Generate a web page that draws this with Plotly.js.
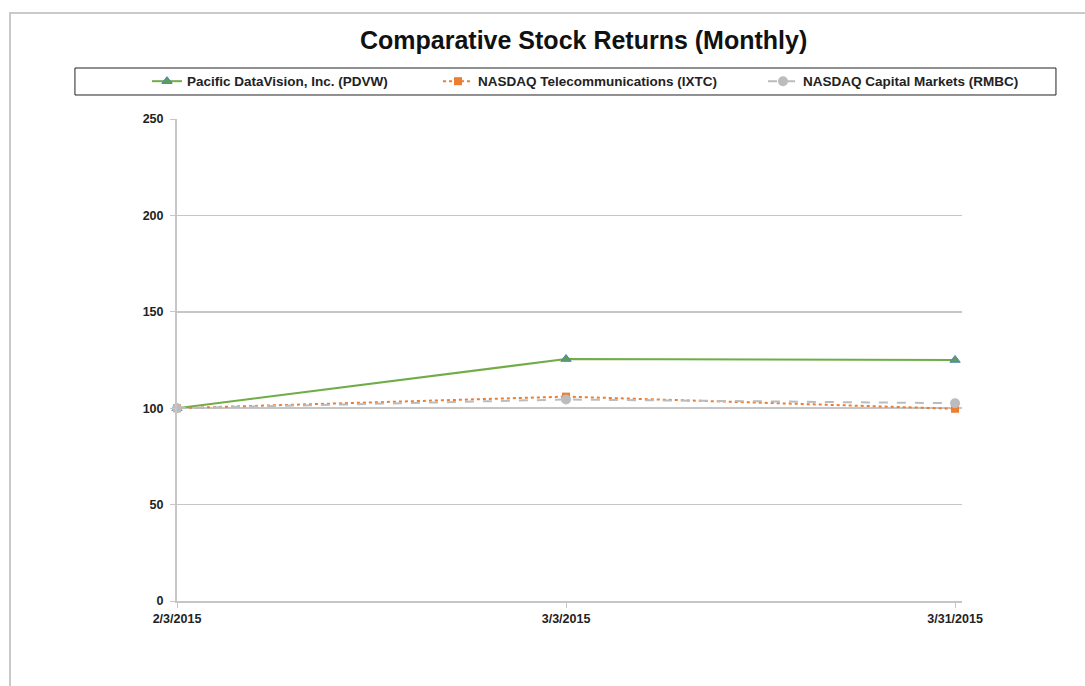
<!DOCTYPE html>
<html>
<head>
<meta charset="utf-8">
<script src="https://cdn.plot.ly/plotly-3.0.1.min.js"></script>
<style>
  html, body { margin: 0; padding: 0; background: #fff; }
  #chart { width: 1085px; height: 686px; }
  #frame { position: absolute; left: 9px; top: 12px; right: 0; bottom: 0;
           border-left: 2px solid #c9c9c9; border-top: 2px solid #c9c9c9; pointer-events: none; }
</style>
</head>
<body>
<div id="chart"></div>
<div id="frame"></div>
<script>
const dates = ['2015-02-03', '2015-03-03', '2015-03-31'];
const tickLabels = ['2/3/2015', '3/3/2015', '3/31/2015'];
const seriesNames = ['Pacific DataVision, Inc. (PDVW)', 'NASDAQ Telecommunications (IXTC)', 'NASDAQ Capital Markets (RMBC)'];
const pdvw = [100, 125.5, 125];
const ixtc = [100, 106, 99.7];
const rmbc = [100, 104.5, 102.6];
const yTicks = [0, 50, 100, 150, 200, 250];

const fam = 'Liberation Sans, Arial, sans-serif';
const tickFont = {family: fam, size: 12.5, color: '#222', weight: 'bold'};
const legFont = {family: fam, size: 13.5, color: '#222', weight: 'bold'};

const traces = [
  {x: dates, y: pdvw, name: seriesNames[0], type: 'scatter', mode: 'lines+markers', legend: 'legend',
   line: {color: '#70ad47', width: 2},
   marker: {symbol: 'triangle-up', size: 9, color: '#5c9e52', line: {color: '#4f81bd', width: 1}},
   cliponaxis: false},
  {x: dates, y: ixtc, name: seriesNames[1], type: 'scatter', mode: 'lines+markers', legend: 'legend2',
   line: {color: '#ed7d31', width: 2, dash: 'dot'},
   marker: {symbol: 'square', size: 8, color: '#ed7d31'},
   cliponaxis: false},
  {x: dates, y: rmbc, name: seriesNames[2], type: 'scatter', mode: 'lines+markers', legend: 'legend3',
   line: {color: '#bcbcbc', width: 2, dash: 'dash'},
   marker: {symbol: 'circle', size: 10, color: '#bcbcbc'},
   cliponaxis: false}
];

function leg(x) {
  return {orientation: 'h', x: x, xanchor: 'left', y: 1.078, yanchor: 'middle',
          bgcolor: 'rgba(0,0,0,0)', borderwidth: 0, font: legFont};
}

const layout = {
  width: 1085, height: 686,
  margin: {l: 177, r: 123, t: 119, b: 85},
  paper_bgcolor: '#fff', plot_bgcolor: '#fff',
  title: {text: 'Comparative Stock Returns (Monthly)', x: 0.518, xref: 'paper', xanchor: 'center',
          y: 0.942, yref: 'container', yanchor: 'middle',
          font: {family: fam, size: 25, color: '#111', weight: 'bold'}},
  xaxis: {type: 'date', range: ['2015-02-03', '2015-03-31 12:00'],
          tickvals: dates, ticktext: tickLabels, showgrid: false, zeroline: false,
          showline: true, linecolor: '#c6c6c6', linewidth: 2,
          ticks: 'outside', ticklen: 5, tickcolor: '#c6c6c6', tickfont: tickFont, fixedrange: true},
  yaxis: {range: [0, 250], tickvals: yTicks, showgrid: true, gridcolor: '#c6c6c6', gridwidth: 1.5,
          zeroline: false, showline: true, linecolor: '#c6c6c6', linewidth: 2,
          ticks: 'outside', ticklen: 5, tickcolor: '#c6c6c6', tickfont: tickFont, ticklabelstandoff: 4},
  showlegend: true,
  legend: leg(-0.0382),
  legend2: leg(0.3325),
  legend3: leg(0.7465),
  shapes: [{type: 'rect', xref: 'paper', yref: 'paper', x0: -0.13, x1: 1.1197, y0: 1.0498, y1: 1.1058,
            line: {color: '#222', width: 1}}]
};

Plotly.newPlot('chart', traces, layout, {displayModeBar: false, staticPlot: true});
</script>
</body>
</html>
